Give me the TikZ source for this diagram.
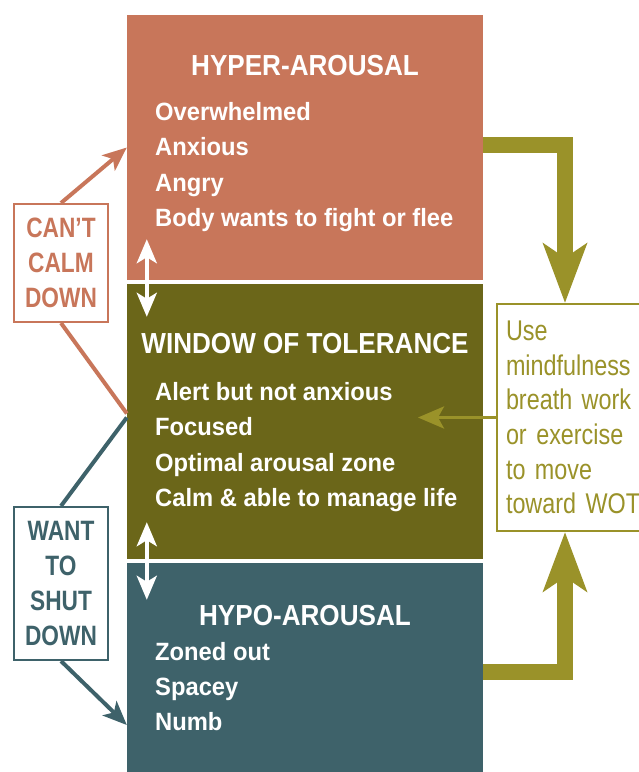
\documentclass[tikz,border=0pt]{standalone}
\usepackage{fontspec}
\setmainfont{Liberation Sans}
\newfontfamily\headfont[FakeStretch=0.9]{Liberation Sans}
\newfontfamily\itemfont[FakeStretch=0.95]{Liberation Sans}
\newfontfamily\sidefont[FakeStretch=0.81]{Liberation Sans}
\newfontfamily\notefont[FakeStretch=0.82,WordSpace=0.75]{Liberation Sans}
\usetikzlibrary{arrows.meta}
\definecolor{hypercol}{HTML}{C8765A}
\definecolor{wotcol}{HTML}{6B6619}
\definecolor{hypocol}{HTML}{3E626A}
\definecolor{olivecol}{HTML}{9A9229}
\tikzset{
  zone/.style={rectangle, minimum width=356pt, inner sep=0pt},
  zonehead/.style={text=white, inner sep=0pt, anchor=base, font=\headfont\bfseries\fontsize{29}{35}\selectfont},
  zoneitem/.style={text=white, inner sep=0pt, anchor=base west, font=\itemfont\bfseries\fontsize{25}{30}\selectfont},
  sidebox/.style={draw, line width=2pt, fill=white, minimum width=94pt, inner sep=0pt, align=center, font=\sidefont\bfseries\fontsize{28}{35}\selectfont},
  sidearrow/.style={line width=4pt, -{Stealth[length=24pt,width=20pt,inset=6pt]}},
  swaparrow/.style={white, line width=4pt, {Stealth[length=24pt,width=20pt,inset=6pt]}-{Stealth[length=24pt,width=20pt,inset=6pt]}},
  bigarrow/.style={olivecol, line width=16pt, line join=miter, -{Stealth[length=59pt,width=43pt,inset=14pt]}}
}
\begin{document}
\begin{tikzpicture}[x=1pt,y=-1pt]
\useasboundingbox (0,0) rectangle (639,772);
% the three zones
\node[zone, fill=hypercol, minimum height=265pt] (hyper) at (305,147.5) {};
\node[zone, fill=wotcol, minimum height=275pt] (window) at (305,421.5) {};
\node[zone, fill=hypocol, minimum height=209pt] (hypo) at (305,667.5) {};
\node[zonehead] (hyperhead) at (305,75) {HYPER-AROUSAL};
\node[zoneitem] (hyper1) at (155,120) {Overwhelmed};
\node[zoneitem] (hyper2) at (155,155.5) {Anxious};
\node[zoneitem] (hyper3) at (155,191) {Angry};
\node[zoneitem] (hyper4) at (155,226.5) {Body wants to fight or flee};
\node[zonehead] (windowhead) at (305,353) {WINDOW OF TOLERANCE};
\node[zoneitem] (window1) at (155,400) {Alert but not anxious};
\node[zoneitem] (window2) at (155,435.5) {Focused};
\node[zoneitem] (window3) at (155,471) {Optimal arousal zone};
\node[zoneitem] (window4) at (155,506.5) {Calm \& able to manage life};
\node[zonehead] (hypohead) at (305,625) {HYPO-AROUSAL};
\node[zoneitem] (hypo1) at (155,660) {Zoned out};
\node[zoneitem] (hypo2) at (155,695) {Spacey};
\node[zoneitem] (hypo3) at (155,730) {Numb};
% moving between zones
\draw[swaparrow] ([shift={(20pt,41pt)}]hyper.south west) -- ([shift={(20pt,-33pt)}]window.north west);
\draw[swaparrow] ([shift={(20pt,37pt)}]window.south west) -- ([shift={(20pt,-37pt)}]hypo.north west);
% side labels
\node[sidebox, draw=hypercol, text=hypercol, minimum height=118pt] (calm) at (61,263) {CAN’T\\CALM\\DOWN};
\node[sidebox, draw=hypocol, text=hypocol, minimum height=153pt] (shut) at (61,583.5) {WANT\\TO\\SHUT\\DOWN};
\draw[sidearrow, hypercol] (calm.north) -- (hyper.west);
\draw[hypercol, line width=4pt] (calm.south) -- ([yshift=8pt]window.west);
\draw[hypocol, line width=4pt] ([yshift=4pt]window.west) -- (shut.north);
\draw[sidearrow, hypocol] (shut.south) -- ([yshift=-57.5pt]hypo.west);
% the way back
\node[draw=olivecol, line width=2pt, fill=white, minimum width=153pt, minimum height=227pt, inner xsep=9pt, inner ysep=0pt, text width=135pt, align=left, text=olivecol, font=\notefont\fontsize{28.5}{34.6}\selectfont] (usebox) at (573.5,417.5) {Use\\mindfulness\\breath work\\or exercise\\to move\\toward WOT};
\draw[bigarrow] ([yshift=2.5pt]hyper.east) -| ([xshift=-8.5pt]usebox.north);
\draw[bigarrow] ([yshift=-4.5pt]hypo.east) -| ([xshift=-8.5pt]usebox.south);
\draw[olivecol, line width=3.5pt, -{Stealth[length=26pt,width=22pt,inset=6pt]}] (usebox.west) -- ([xshift=-78pt]usebox.west);
\end{tikzpicture}
\end{document}
